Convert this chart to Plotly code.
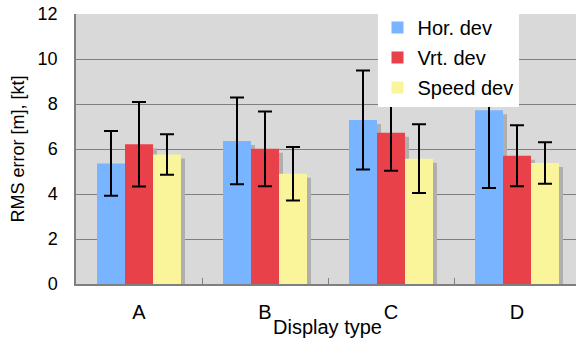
import plotly.graph_objects as go

categories = ["A", "B", "C", "D"]
series_names = ["Hor. dev", "Vrt. dev", "Speed dev"]
hor_dev = [5.36, 6.36, 7.29, 7.72]
hor_err = [1.44, 1.93, 2.20, 3.45]
vrt_dev = [6.21, 6.01, 6.72, 5.70]
vrt_err = [1.88, 1.66, 1.69, 1.35]
spd_dev = [5.76, 4.90, 5.57, 5.38]
spd_err = [0.90, 1.19, 1.53, 0.92]

colors = ["#78B4FF", "#E8414A", "#FAF59B"]
shadow_color = "#AFAFAF"

values = [hor_dev, vrt_dev, spd_dev]
errors = [hor_err, vrt_err, spd_err]

# geometry (in category units)
plot_w_px = 500
cat_px = 126
bar_w = 28 / cat_px
offsets = [-1.5 * bar_w, -0.5 * bar_w, 0.5 * bar_w]
sh_dx = 4 / cat_px
sh_dy = 4 / 22.5

fig = go.Figure()

for k in range(3):
    fig.add_trace(go.Bar(
        x=categories, y=[v - sh_dy for v in values[k]],
        width=bar_w, offset=offsets[k] + sh_dx,
        marker=dict(color=shadow_color, line=dict(width=0)),
        showlegend=False, hoverinfo="skip",
    ))

for k in range(3):
    fig.add_trace(go.Bar(
        x=categories, y=values[k], name=series_names[k],
        width=bar_w, offset=offsets[k],
        marker=dict(color=colors[k], line=dict(width=0)),
        error_y=dict(type="data", array=errors[k], color="black", thickness=2, width=7),
        legendgroup=series_names[k],
    ))

font_family = "Liberation Sans, Arial, sans-serif"

fig.update_layout(
    width=576, height=338,
    margin=dict(l=76, r=0, t=14, b=54),
    paper_bgcolor="white",
    plot_bgcolor="#D9D9D9",
    barmode="overlay",
    font=dict(family=font_family, color="black"),
    showlegend=True,
    legend=dict(
        x=0.603, y=1.022, xanchor="left", yanchor="top",
        bgcolor="white", borderwidth=0,
        font=dict(size=20, family=font_family),
        traceorder="grouped", tracegroupgap=1,
        itemwidth=30,
    ),
    xaxis=dict(
        type="category", automargin=False,
        range=[-0.5, -0.5 + plot_w_px / cat_px],
        showline=True, linecolor="#808080", linewidth=1.5,
        tickson="boundaries", ticks="inside", ticklen=6, tickcolor="#808080",
        tickfont=dict(size=20), ticklabelstandoff=9,
        showgrid=False,
    ),
    yaxis=dict(
        automargin=False,
        range=[0, 12], tickvals=[0, 2, 4, 6, 8, 10, 12],
        showline=True, linecolor="#808080", linewidth=1.5,
        showgrid=True, gridcolor="#808080", gridwidth=1,
        zeroline=False,
        ticks="", tickfont=dict(size=18), ticklabelstandoff=13,
        title=dict(text="RMS error [m], [kt]", font=dict(size=18), standoff=8),
    ),
    annotations=[dict(
        text="Display type", xref="paper", yref="paper",
        x=(327 - 76) / plot_w_px, y=(284 - 327) / 270,
        xanchor="center", yanchor="middle", showarrow=False,
        font=dict(size=20, family=font_family),
    )],
)

fig.write_html(
    "out.html",
    config={"displayModeBar": False},
    post_script="document.body.style.margin='0';document.body.style.overflow='hidden';",
)
